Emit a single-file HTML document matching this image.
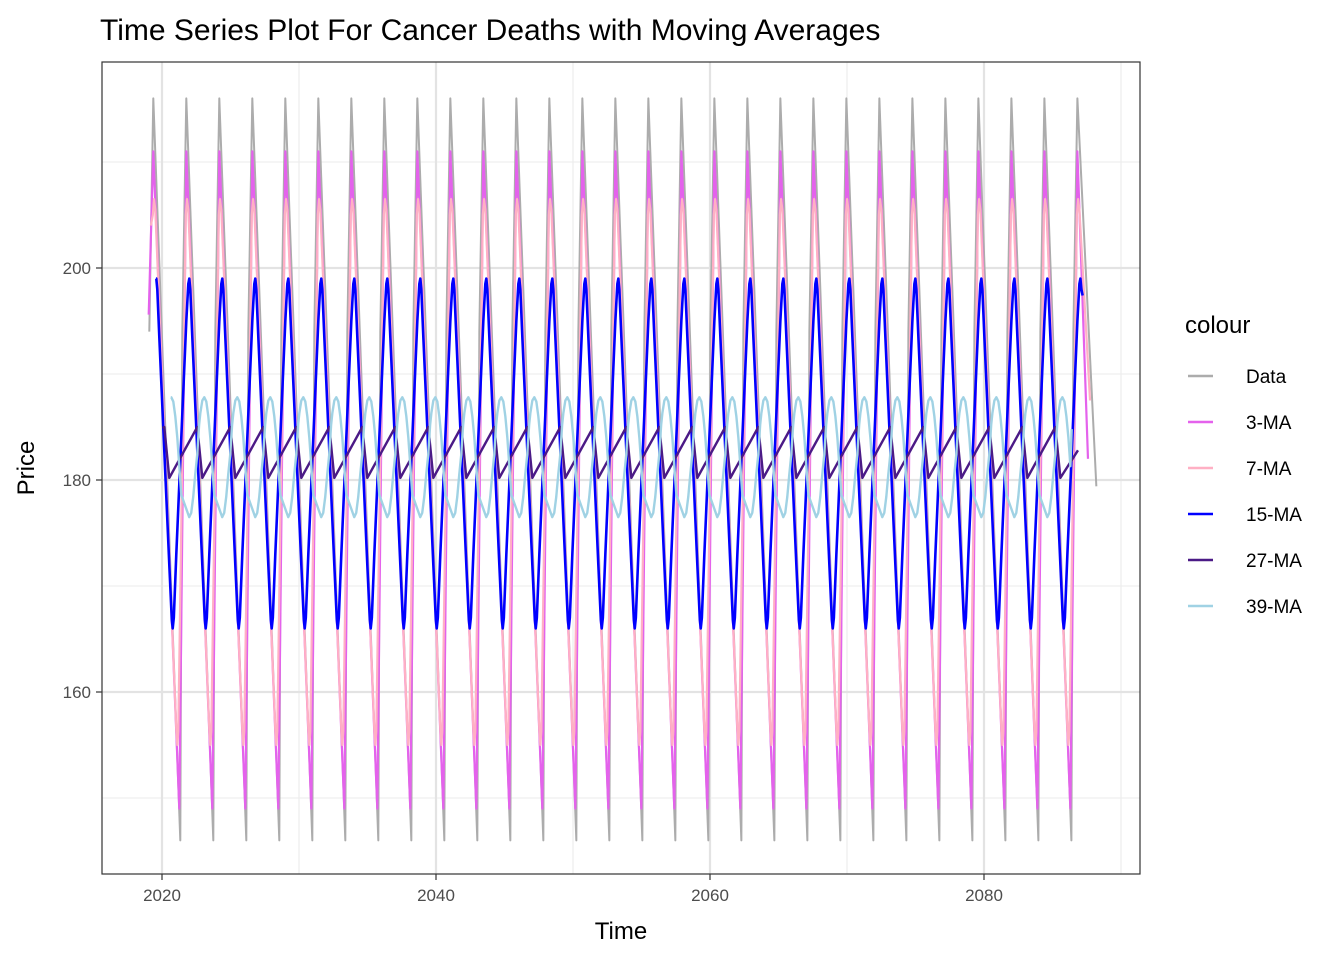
<!DOCTYPE html>
<html><head><meta charset="utf-8"><style>
body{margin:0;background:#fff;font-family:"Liberation Sans",Arial,sans-serif}
svg text{font-family:"Liberation Sans",Arial,sans-serif}
</style></head><body>
<svg id="chart" width="1344" height="960" xmlns="http://www.w3.org/2000/svg">
<text x="100" y="40" font-size="30" fill="#000">Time Series Plot For Cancer Deaths with Moving Averages</text>
<rect x="102" y="62" width="1038" height="812" fill="#fff"/>
<g id="grid"></g>
<g id="series"></g>
<rect x="102" y="62" width="1038" height="812" fill="none" stroke="#333" stroke-width="1.2"/>
<g id="axes"></g>
<text x="621" y="939" font-size="24" text-anchor="middle">Time</text>
<text transform="translate(34,468) rotate(-90)" font-size="24" text-anchor="middle">Price</text>
<g id="legend">
<text x="1185" y="333" font-size="24">colour</text>
</g>
</svg>
<script>
// axis configuration
const xTicks = [2020, 2040, 2060, 2080];
const xMinor = [2030, 2050, 2070, 2090];
const yTicks = [160, 180, 200];
const yMinor = [150, 170, 190, 210];
const seriesNames = ["Data", "3-MA", "7-MA", "15-MA", "27-MA", "39-MA"];
const seriesColors = ["#acacac", "#e462ec", "#ffb0c4", "#0000ff", "#4b1a86", "#a0d2e4"];
const cycleStart = 2019.073;
const cyclePeriod = 2.409;
const cycleCount = 29;
// one-cycle shapes: phase (years into cycle) and value
const dataPhase = [0, 0.292, 2.263];
const dataVal = [194, 216, 146];
const dataStart = [2019.073, 194];
const dataEnd = [2088.2, 179.4];
const ma3Phase = [0.292, 2.190];
const ma3Val = [211, 149];
const ma3Start = [2019.03, 195.6];
const ma3End = [2087.59, 182];
const ma7Phase = [0.255, 0.343, 0.438, 1.971, 2.044, 2.117];
const ma7Val = [205, 206.5, 205.5, 156.5, 155, 156.3];
const ma7Start = [2019.19, 204];
const ma7End = [2087.74, 187.5];
const ma15Phase = [0.511, 0.584, 0.730, 1.460, 1.642, 1.708, 1.788, 1.971, 2.701, 2.847, 2.920];
const ma15Val = [199, 198, 193.5, 172, 166.8, 166, 167, 173, 195, 198.5, 199];
const ma15Start = [2019.56, 199];
const ma15End = [2087.2, 197.4];
const ma27Phase = [1.095, 1.460];
const ma27Val = [185, 180.2];
const ma27Start = [2020.05, 184.9];
const ma27End = [2086.86, 182.8];
const ma39Phase = [0.504, 0.650, 0.796, 0.942, 1.088, 1.226, 1.314, 1.460, 1.606, 1.752, 1.898, 2.044, 2.190, 2.336];
const ma39Val = [176.5, 176.9, 178.4, 180.5, 182.4, 185.2, 186.3, 187.5, 187.8, 187.4, 186.0, 184.0, 181.3, 178.6];
const ma39Start = [2020.64, 187.8];
const ma39End = [2086.4, 184.8];

const NS = "http://www.w3.org/2000/svg";
const X = t => 162 + (t - 2020) * 13.7;
const Y = v => 480 - (v - 180) * 10.6;
function mk(tag, attrs, parent){const e=document.createElementNS(NS,tag);for(const k in attrs)e.setAttribute(k,attrs[k]);parent.appendChild(e);return e;}
const grid=document.getElementById('grid'), axes=document.getElementById('axes'), ser=document.getElementById('series'), leg=document.getElementById('legend');
xMinor.forEach(t=>{const l=mk('line',{x1:X(t),x2:X(t),y1:62,y2:874,stroke:'#ebebeb','stroke-width':1.1},grid);

});
yMinor.forEach(v=>{const l=mk('line',{x1:102,x2:1140,y1:Y(v),y2:Y(v),stroke:'#ebebeb','stroke-width':1.1},grid);

});
xTicks.forEach(t=>{const l=mk('line',{x1:X(t),x2:X(t),y1:62,y2:874,stroke:'#e3e3e3','stroke-width':2.2},grid);


const tk=mk('line',{x1:X(t),x2:X(t),y1:874,y2:880,stroke:'#333','stroke-width':1.2},axes);


const tx=mk('text',{x:X(t),y:901,'font-size':17,fill:'#4d4d4d','text-anchor':'middle'},axes);tx.textContent=t;

});
yTicks.forEach(v=>{const l=mk('line',{x1:102,x2:1140,y1:Y(v),y2:Y(v),stroke:'#e3e3e3','stroke-width':2.2},grid);


const tk=mk('line',{x1:96,x2:102,y1:Y(v),y2:Y(v),stroke:'#333','stroke-width':1.2},axes);


const tx=mk('text',{x:91,y:Y(v)+6,'font-size':17,fill:'#4d4d4d','text-anchor':'end'},axes);tx.textContent=v;

});
function build(phase, val, start, end){
  const pts=[start];
  for(let k=0;k<cycleCount;k++){for(let i=0;i<phase.length;i++){const t=cycleStart+k*cyclePeriod+phase[i];if(t>start[0]&&t<end[0])pts.push([t,val[i]]);}}
  pts.sort((a,b)=>a[0]-b[0]);
  pts.push(end);return pts;
}
const all=[[dataPhase,dataVal,dataStart,dataEnd],[ma3Phase,ma3Val,ma3Start,ma3End],[ma7Phase,ma7Val,ma7Start,ma7End],
[ma15Phase,ma15Val,ma15Start,ma15End],[ma27Phase,ma27Val,ma27Start,ma27End],[ma39Phase,ma39Val,ma39Start,ma39End]];
const widths=[2,2.2,2.2,2.6,2.4,2.4];
all.forEach((s,i)=>{
  const pts=build(...s);
  const p=mk('polyline',{points:pts.map(q=>X(q[0]).toFixed(2)+','+Y(q[1]).toFixed(2)).join(' '),fill:'none',stroke:seriesColors[i],'stroke-width':widths[i],'stroke-linejoin':'round'},ser);
  
  
  const y=376+i*46;
  const ll=mk('line',{x1:1188,x2:1213,y1:y,y2:y,stroke:seriesColors[i],'stroke-width':2.4},leg);
  
  
  const lt=mk('text',{x:1246,y:y+7,'font-size':19,fill:'#000'},leg);lt.textContent=seriesNames[i];
  
  
});
</script>
</body></html>
